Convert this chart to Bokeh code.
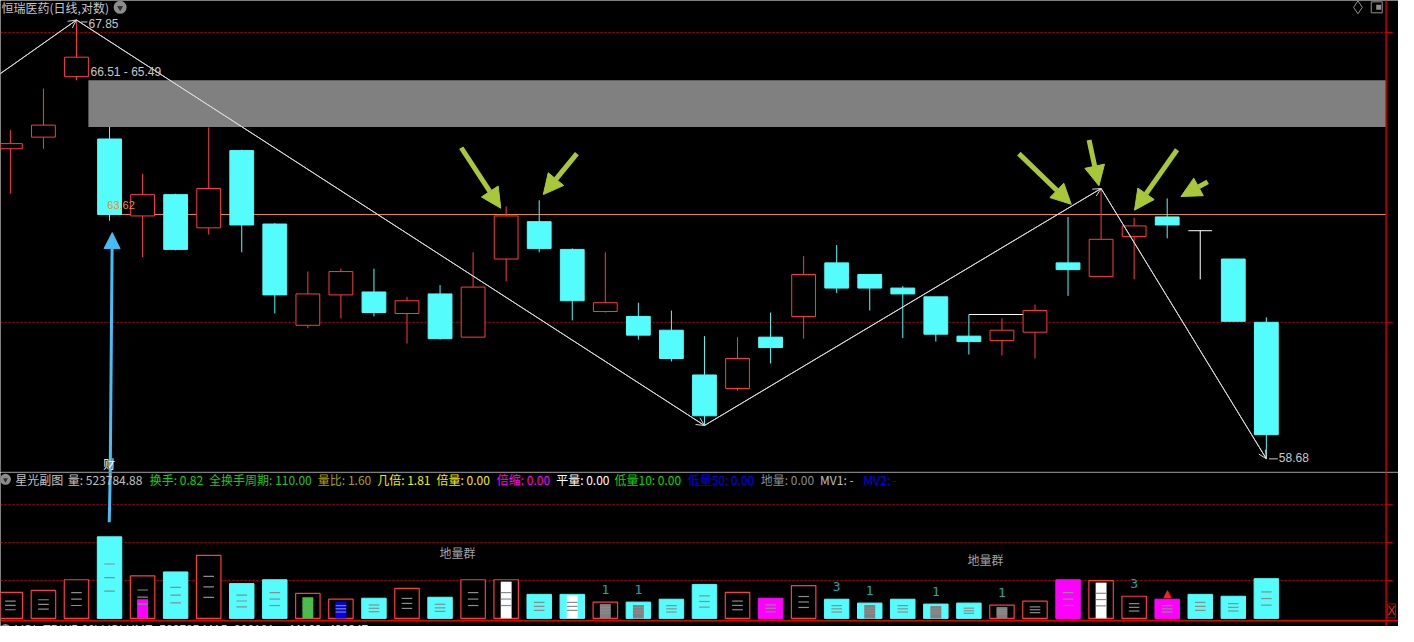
import math
from bokeh.plotting import figure
from bokeh.layouts import column
from bokeh.models import Range1d, Label, Arrow, NormalHead, OpenHead
from bokeh.core.properties import value
from bokeh.embed import file_html
from bokeh.resources import INLINE

# ---------------- data ----------------
TITLE = "恒瑞医药(日线,对数)"
opens  = [65.02, 65.27, 66.59, 65.23, 63.59, 64.04, 63.34, 64.98, 63.42, 61.33,
          61.95, 62.01, 61.57, 61.97, 61.09, 62.69, 63.47, 62.89, 61.61, 61.51,
          61.23, 60.33, 60.06, 61.09, 61.51, 62.61, 62.37, 62.09, 61.91, 61.11,
          61.02, 61.19, 62.61, 62.33, 63.16, 63.57, 63.28, 62.69, 61.39]
highs  = [65.42, 66.33, 67.85, 65.49, 64.48, 64.06, 65.48, 65.00, 63.44, 62.43,
          62.49, 62.49, 61.91, 62.15, 62.83, 63.79, 63.92, 62.91, 62.83, 61.79,
          61.63, 61.11, 61.09, 61.59, 62.75, 62.98, 62.37, 62.13, 61.91, 61.55,
          61.47, 61.75, 63.57, 64.17, 63.55, 63.96, 63.28, 62.69, 61.49]
lows   = [64.06, 65.02, 66.51, 63.49, 62.73, 62.87, 63.20, 62.83, 61.57, 61.27,
          61.47, 61.51, 60.96, 61.04, 61.09, 62.23, 62.83, 61.43, 61.59, 61.04,
          60.60, 59.33, 60.02, 60.56, 61.06, 61.99, 61.63, 61.07, 61.00, 60.74,
          60.72, 60.66, 61.93, 62.33, 62.27, 63.12, 62.27, 61.41, 58.68]
closes = [65.13, 65.53, 67.02, 63.62, 64.04, 62.89, 64.17, 63.40, 61.95, 61.97,
          62.43, 61.59, 61.83, 61.06, 62.11, 63.59, 62.91, 61.83, 61.79, 61.13,
          60.66, 59.52, 60.66, 60.88, 62.37, 62.09, 62.09, 61.97, 61.15, 61.00,
          61.23, 61.63, 62.47, 63.10, 63.38, 63.40, 63.28, 61.41, 59.15]

volumes = [343000, 369000, 510000, 1076000, 562000, 613000, 832000, 459000, 510000, 330000,
           253000, 266000, 395000, 279000, 510000, 510000, 317000, 317000, 215000, 215000,
           253000, 446000, 343000, 266000, 433000, 253000, 202000, 253000, 189000, 202000,
           176000, 228000, 510000, 497000, 292000, 253000, 317000, 292000, 523785]
vol_kind = ["up", "up", "up", "down", "up", "down", "up", "down", "down", "up",
            "up", "down", "up", "down", "up", "up", "down", "down", "up", "down",
            "down", "down", "up", "mag", "up", "down", "down", "down", "down", "down",
            "up", "up", "mag", "up", "up", "mag", "down", "down", "down"]
inner_idx = [4, 9, 10, 15, 17, 18, 19, 26, 28, 30, 33]
inner_vol = [253000, 279000, 215000, 485000, 305000, 189000, 176000, 176000, 163000, 150000, 472000]
inner_col = ["#ff00ff", "#3cc83c", "#0000ff", "#ffffff", "#ffffff", "#808080",
             "#808080", "#808080", "#808080", "#808080", "#ffffff"]
mark_idx = [18, 19, 25, 26, 28, 30, 34]
mark_txt = ["1", "1", "3", "1", "1", "1", "3"]
signal_idx = [35]

zz_idx = [-1, 2, 21, 33, 38]
zz_price = [66.30, 67.85, 59.33, 64.17, 58.68]
gap_idx, gap_low, gap_high = 2, 65.49, 66.51
level_idx, level_price = 3, 63.62
white_lvl_idx, white_lvl_price = [29, 31], 61.55
main_grid = [67.57, 61.39]
vol_grid = [500000, 1000000, 1500000]

header = [("星光副图", "#c0c0c0", 15), ("量: 523784.88", "#c0c0c0", 68),
          ("换手: 0.82", "#00dc00", 151), ("全换手周期: 110.00", "#22c422", 211),
          ("量比: 1.60", "#a8a000", 321), ("几倍: 1.81", "#f0f000", 381),
          ("倍量: 0.00", "#f0f000", 441), ("倍缩: 0.00", "#ff00ff", 502),
          ("平量: 0.00", "#ffffff", 562), ("低量10: 0.00", "#00dc00", 621),
          ("低量50: 0.00", "#0000e6", 695), ("地量: 0.00", "#8c8c8c", 769),
          ("MV1: -", "#c0c0c0", 829), ("MV2: -", "#0000ff", 873)]

# ---------------- style ----------------
RED = "#ff3c3c"
CYAN = "#54fcfc"
BG = "black"
CJK = "Noto Sans CJK SC"
NUM = "Liberation Sans"
GREEN_ARROW = "#a8c83a"
BLUE_ARROW = "#45bdf5"
W, H_MAIN, H_VOL = 1398, 472, 154


def px_x(x):
    return (x - 10.0) / 33.43


def px_price(y):
    return 68.289 * math.exp(-0.00032271 * y)


def px_vol(y):
    return (633.7 - y) * 12853.0


xr = Range1d(px_x(0), px_x(1414))
XR_BORDER = px_x(1401.5)


def make_fig(h, yr, log=False):
    f = figure(width=W, height=h, x_range=xr, y_range=yr,
               y_axis_type="log" if log else "linear",
               output_backend="svg", toolbar_location=None,
               x_axis_location=None, y_axis_location=None,
               min_border=0, min_border_left=0, min_border_right=0,
               min_border_top=0, min_border_bottom=0,
               background_fill_color=BG, border_fill_color=BG,
               outline_line_color=None)
    f.grid.visible = False
    return f


# ================= main panel =================
p = make_fig(H_MAIN, Range1d(px_price(484), px_price(0)), log=True)

p.segment(x0=[px_x(0)] * len(main_grid), y0=main_grid,
          x1=[XR_BORDER] * len(main_grid), y1=main_grid,
          line_color="#c80000", line_dash="2 2", line_width=1)
p.segment(x0=[XR_BORDER] * len(main_grid), y0=main_grid,
          x1=[px_x(1408)] * len(main_grid), y1=main_grid,
          line_color="#c80000", line_width=1)

# gap band
p.quad(left=[gap_idx + 0.36], right=[XR_BORDER], bottom=[gap_low], top=[gap_high],
       fill_color="#808080", line_color=None)
# level lines
p.segment(x0=[level_idx], y0=[level_price], x1=[XR_BORDER], y1=[level_price],
          line_color="#e88a30", line_width=1)
p.segment(x0=[white_lvl_idx[0]], y0=[white_lvl_price], x1=[white_lvl_idx[1]], y1=[white_lvl_price],
          line_color="#ffffff", line_width=1)

n = len(opens)
up = [i for i in range(n) if closes[i] > opens[i]]
dn = [i for i in range(n) if closes[i] < opens[i]]
fl = [i for i in range(n) if closes[i] == opens[i]]

# down candles (cyan filled)
p.segment(x0=dn, y0=[highs[i] for i in dn], x1=dn, y1=[lows[i] for i in dn],
          line_color=CYAN, line_width=1)
p.vbar(x=dn, width=0.72, top=[opens[i] for i in dn], bottom=[closes[i] for i in dn],
       fill_color=CYAN, line_color=CYAN, line_width=1)
# up candles (red hollow)
p.segment(x0=up, y0=[highs[i] for i in up], x1=up, y1=[closes[i] for i in up],
          line_color=RED, line_width=1)
p.segment(x0=up, y0=[opens[i] for i in up], x1=up, y1=[lows[i] for i in up],
          line_color=RED, line_width=1)
p.vbar(x=up, width=0.72, top=[closes[i] for i in up], bottom=[opens[i] for i in up],
       fill_color=BG, line_color=RED, line_width=1)
# flat candles
p.segment(x0=fl, y0=[highs[i] for i in fl], x1=fl, y1=[lows[i] for i in fl],
          line_color="#ffffff", line_width=1)
p.segment(x0=[i - 0.36 for i in fl], y0=[opens[i] for i in fl],
          x1=[i + 0.36 for i in fl], y1=[opens[i] for i in fl],
          line_color="#ffffff", line_width=1)

# zigzag
p.line(zz_idx, zz_price, line_color="#d8d8d8", line_width=1)
for k in range(1, len(zz_idx)):
    p.add_layout(Arrow(x_start=zz_idx[k - 1], y_start=zz_price[k - 1],
                       x_end=zz_idx[k], y_end=zz_price[k],
                       end=OpenHead(size=8, line_color="#d8d8d8", line_width=1),
                       line_color="#d8d8d8", line_width=1))

# price labels
p.segment(x0=[px_x(81)], y0=[px_price(22)], x1=[px_x(88)], y1=[px_price(22)], line_color="#c8c8c8")
p.add_layout(Label(x=px_x(89), y=px_price(24), text="67.85", text_color="#c8c8c8",
                   text_font=NUM, text_font_size="12px", text_baseline="middle"))
p.add_layout(Label(x=px_x(91), y=px_price(73), text="66.51 - 65.49", text_color="#c8c8c8",
                   text_font=NUM, text_font_size="12px", text_baseline="middle"))
p.add_layout(Label(x=px_x(108), y=px_price(210), text="63.62", text_color="#f08c28",
                   text_font=NUM, text_font_size="11px", text_baseline="middle"))
p.segment(x0=[px_x(1283)], y0=[px_price(470)], x1=[px_x(1292)], y1=[px_price(470)], line_color="#c8c8c8")
p.add_layout(Label(x=px_x(1293), y=px_price(469), text="58.68", text_color="#c8c8c8",
                   text_font=NUM, text_font_size="12px", text_baseline="middle"))

# green arrows
green_arrows = [((466, 151), (506, 213)), ((583, 157), (549, 199)),
                ((1030, 157), (1083, 209)), ((1101, 143), (1111, 190)),
                ((1190, 153), (1147, 215)), ((1221, 186), (1194, 201))]
for (tx, ty), (hx, hy) in green_arrows:
    p.add_layout(Arrow(x_start=px_x(tx), y_start=px_price(ty), x_end=px_x(hx), y_end=px_price(hy),
                       end=NormalHead(size=20, fill_color=GREEN_ARROW, line_color=GREEN_ARROW),
                       line_color=GREEN_ARROW, line_width=5))
# blue arrow (main part)
p.add_layout(Arrow(x_start=px_x(111), y_start=px_price(484), x_end=px_x(113), y_end=px_price(238),
                   end=NormalHead(size=16, fill_color=BLUE_ARROW, line_color=BLUE_ARROW),
                   line_color=BLUE_ARROW, line_width=3))
p.add_layout(Label(x=px_x(110), y=px_price(475), text="财", text_color="#ffffff",
                   text_font=CJK, text_font_size="12px", text_baseline="middle", text_align="center"))

# title and icons
p.add_layout(Label(x=px_x(1), y=px_price(7), text=TITLE, text_color="#c8c8c8",
                   text_font=CJK, text_font_size="12px", text_baseline="middle"))
p.scatter([px_x(121)], [px_price(7)], marker="circle", size=13, fill_color="#8c8c8c", line_color=None)
p.scatter([px_x(121)], [px_price(7.5)], marker="inverted_triangle", size=6, fill_color="#303030", line_color=None)
p.scatter([px_x(1373)], [px_price(7)], marker="diamond", size=13, fill_color=None, line_color="#909090")
p.scatter([px_x(1392)], [px_price(7)], marker="square", size=11, fill_color=None, line_color="#909090")
p.scatter([px_x(1394)], [px_price(7)], marker="square", size=5, fill_color="#909090", line_color=None)

# borders
p.segment(x0=[XR_BORDER], y0=[px_price(484)], x1=[XR_BORDER], y1=[px_price(0)],
          line_color="#c80000", line_width=1.5)
p.segment(x0=[px_x(0)], y0=[px_price(483.3)], x1=[px_x(1414)], y1=[px_price(483.3)],
          line_color="#a00000", line_width=1)

# ================= volume panel =================
v = make_fig(H_VOL, Range1d(px_vol(642), px_vol(484)))

v.segment(x0=[px_x(0)] * len(vol_grid), y0=vol_grid, x1=[XR_BORDER] * len(vol_grid), y1=vol_grid,
          line_color="#c80000", line_dash="2 2", line_width=1)
v.segment(x0=[XR_BORDER] * len(vol_grid), y0=vol_grid, x1=[px_x(1408)] * len(vol_grid), y1=vol_grid,
          line_color="#c80000", line_width=1)

vi = list(range(len(volumes)))
k_up = [i for i in vi if vol_kind[i] == "up"]
k_dn = [i for i in vi if vol_kind[i] == "down"]
k_mg = [i for i in vi if vol_kind[i] == "mag"]
v.vbar(x=k_dn, width=0.74, top=[volumes[i] for i in k_dn], bottom=0,
       fill_color=CYAN, line_color=CYAN)
v.vbar(x=k_mg, width=0.74, top=[volumes[i] for i in k_mg], bottom=0,
       fill_color="#ff00ff", line_color="#ff00ff")
v.vbar(x=k_up, width=0.74, top=[volumes[i] for i in k_up], bottom=0,
       fill_color=BG, line_color=RED, line_width=1.2)
v.vbar(x=inner_idx, width=0.33, top=inner_vol, bottom=0, fill_color=inner_col, line_color=None)
for frac in (1 / 3, 1 / 2, 2 / 3):
    v.segment(x0=[i - 0.16 for i in vi], y0=[volumes[i] * frac for i in vi],
              x1=[i + 0.16 for i in vi], y1=[volumes[i] * frac for i in vi],
              line_color="#8c8c8c", line_width=1.2)

v.text(x=mark_idx, y=[volumes[i] for i in mark_idx], text=mark_txt, y_offset=-8,
       text_baseline="bottom", text_align="center", text_color="#20a8a8",
       text_font=value("DejaVu Sans Mono"), text_font_size="13px")
v.text(x=signal_idx, y=[volumes[i] for i in signal_idx], text=["▲"] * len(signal_idx), y_offset=1,
       text_baseline="bottom", text_align="center", text_color="#ff2020",
       text_font=value("DejaVu Sans"), text_font_size="11px")

for txt, x, y in [("地量群", 444, 566), ("地量群", 978, 573)]:
    v.add_layout(Label(x=px_x(x), y=px_vol(y), text=txt, text_color="#a0a0a8",
                       text_font=CJK, text_font_size="12px", text_baseline="middle"))

# header row
v.scatter([px_x(5)], [px_vol(491)], marker="circle", size=11, fill_color="#8c8c8c", line_color=None)
v.scatter([px_x(5)], [px_vol(491.5)], marker="inverted_triangle", size=5, fill_color="#303030", line_color=None)
for txt, col, x in header:
    v.add_layout(Label(x=px_x(x), y=px_vol(491), text=txt, text_color=col,
                       text_font=CJK, text_font_size="12px", text_baseline="middle"))

# blue arrow (tail part)
v.segment(x0=[px_x(110)], y0=[px_vol(535)], x1=[px_x(111)], y1=[px_vol(484)],
          line_color=BLUE_ARROW, line_width=3)

# borders
v.segment(x0=[XR_BORDER], y0=[px_vol(642)], x1=[XR_BORDER], y1=[px_vol(484)],
          line_color="#c80000", line_width=1.5)
v.segment(x0=[px_x(0)], y0=[px_vol(636)], x1=[px_x(1414)], y1=[px_vol(636)],
          line_color="#e00000", line_width=1.5)
v.add_layout(Label(x=px_x(1403), y=px_vol(626), text="X", text_color="#e03030",
                   border_line_color="#c00000", text_font=NUM, text_font_size="12px",
                   text_baseline="middle"))

# bottom strip (cut off)
v.scatter([px_x(5)], [px_vol(645)], marker="circle", size=11, fill_color="#8c8c8c", line_color=None)
v.add_layout(Label(x=px_x(15), y=px_vol(638.5), text="VOL-TDX(5,60)  VOLUME: 523785  MA5: 322181",
                   text_color="#c8c8c8", text_font=NUM, text_font_size="12px", text_baseline="top"))
v.add_layout(Label(x=px_x(293), y=px_vol(638.5), text="MA60: 480847",
                   text_color="#f0f000", text_font=NUM, text_font_size="12px", text_baseline="top"))

layout = column(p, v, spacing=0)
open("out.html", "w").write(file_html(layout, INLINE))
